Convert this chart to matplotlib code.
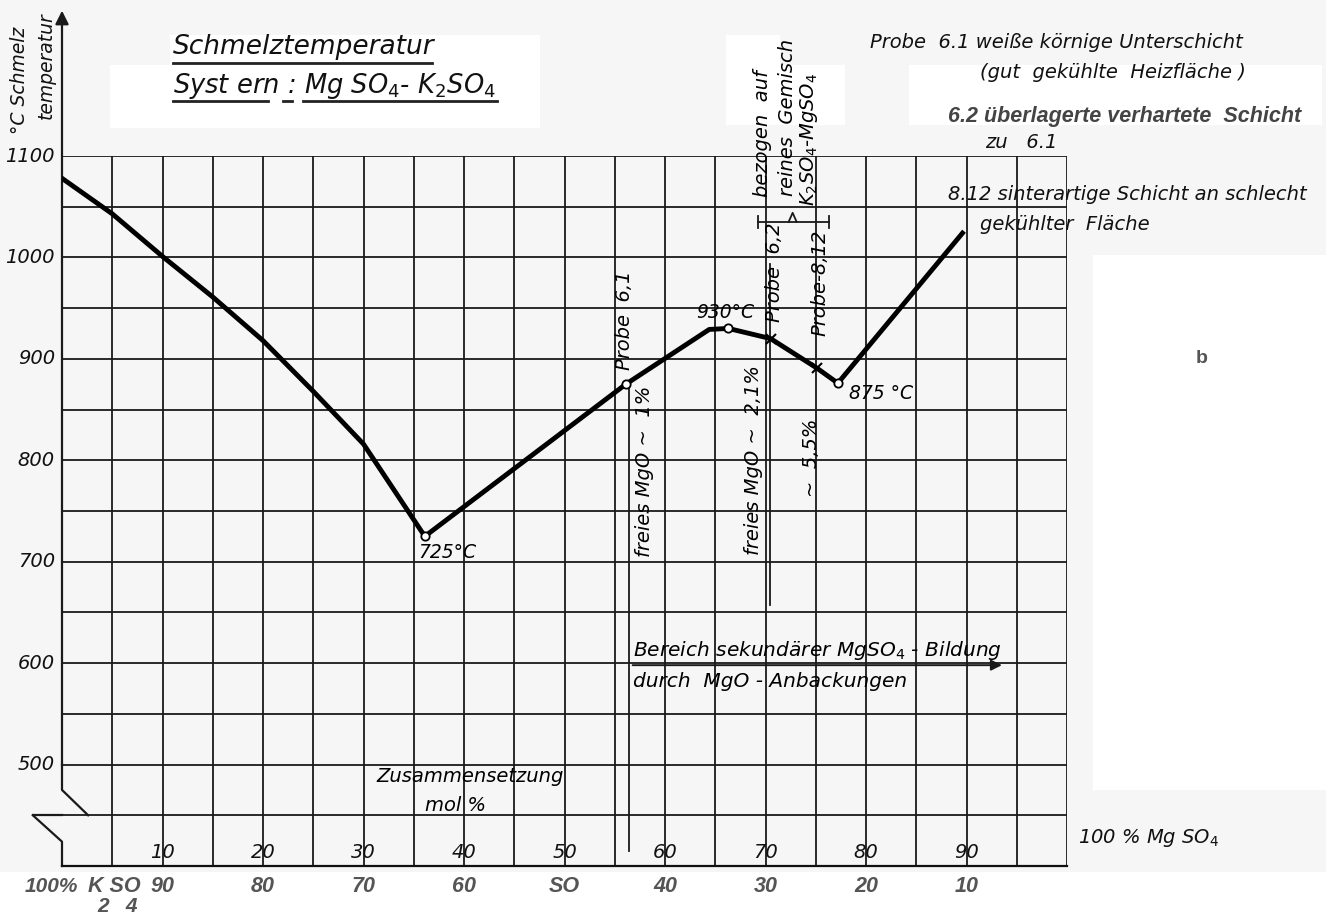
import matplotlib
matplotlib.use("Agg")
import matplotlib.pyplot as plt
from matplotlib.patches import Rectangle

# ---------------- data ----------------
comp = [0, 5, 10, 15, 20, 25, 30, 36.1, 56.1, 64.4, 66.3, 70.5, 75.1, 77.2, 89.6]
temp = [1078, 1043, 1001, 961, 918, 868, 816, 725, 875, 929, 930, 920, 891, 876, 1024]
circle_comp = [36.1, 56.1, 66.3, 77.2]
circle_temp = [725, 875, 930, 876]
cross_comp = [70.5, 75.1]
cross_temp = [920, 891]
y_ticks = [500, 600, 700, 800, 900, 1000, 1100]
mg_ticks = [10, 20, 30, 40, 50, 60, 70, 80, 90]
k_labels = ["90", "80", "70", "60", "SO", "40", "30", "20", "10"]

W, H = 1326, 916
fig = plt.figure(figsize=(W / 100, H / 100), dpi=100)
fig.patch.set_facecolor("#f6f6f6")

def P(x, y):
    return (x / W, 1 - y / H)

def ftxt(x, y, s, **kw):
    kw.setdefault("fontsize", 14)
    kw.setdefault("style", "italic")
    kw.setdefault("color", "#111111")
    kw.setdefault("va", "center")
    return fig.text(*P(x, y), s, **kw)

# white paper patches (behind everything)
for (x0, y0, x1, y1) in [(170, 35, 540, 128), (110, 65, 170, 128),
                         (726, 35, 780, 125), (780, 65, 845, 125),
                         (909, 65, 1322, 125), (1093, 255, 1326, 790),
                         (0, 872, 1326, 916)]:
    fig.patches.append(Rectangle(P(x0, y1), (x1 - x0) / W, (y1 - y0) / H,
                                 transform=fig.transFigure, facecolor="white",
                                 edgecolor="none", zorder=-5))

L, R, T, B = 62, 1067, 156, 866
ax = fig.add_axes([L / W, 1 - B / H, (R - L) / W, (B - T) / H])
ax.set_zorder(1)
ax.set_facecolor("none")
ax.set_xlim(0, 100)
ax.set_ylim(400, 1100)
for s in ["left", "right", "top"]:
    ax.spines[s].set_visible(False)
ax.spines["bottom"].set_linewidth(1.6)
ax.spines["bottom"].set_color("#111111")
ax.set_xticks([])
ax.set_yticks([])

gc = "#1a1a1a"
for xv in range(5, 101, 5):
    ax.axvline(xv, color=gc, lw=1.3, zorder=1)
for yv in range(450, 1101, 50):
    ax.axhline(yv, color=gc, lw=1.3, zorder=1)

# left axis with break symbol
ax.plot([0, 0], [500, 1100], color=gc, lw=1.6, clip_on=False)
ax.plot([0, 0, 2.6], [500, 475, 450], color=gc, lw=1.6, clip_on=False)
ax.plot([-2.9, 0], [450, 450], color=gc, lw=1.6, clip_on=False)
ax.plot([-2.9, 0, 0], [450, 424, 400], color=gc, lw=1.6, clip_on=False)
ax.annotate("", xy=(0, 1246), xytext=(0, 1098),
            arrowprops=dict(arrowstyle="-|>", lw=1.6, color=gc, mutation_scale=20),
            annotation_clip=False)

# curve
ax.plot(comp, temp, color="black", lw=3.5, solid_joinstyle="round", zorder=4)
ax.plot(circle_comp, circle_temp, "o", ms=6, mfc="white", mec="black", mew=1.3, zorder=5)
ax.plot(cross_comp, cross_temp, "x", ms=7, color="black", mew=1.5, zorder=5)

# annotation verticals
ax.plot([56.4, 56.4], [875, 415], color=gc, lw=1.3, clip_on=False)
ax.plot([70.4, 70.4], [994, 657], color=gc, lw=1.3, clip_on=False)
ax.annotate("", xy=(93.8, 598), xytext=(56.5, 598),
            arrowprops=dict(arrowstyle="-|>", lw=1.4, color=gc, mutation_scale=16))

# y tick labels
for yv in y_ticks:
    ax.text(-0.7, yv, str(yv), ha="right", va="center", fontsize=14,
            style="italic", color="#111111", clip_on=False)
# x tick labels inside bottom row
for v in mg_ticks:
    ax.text(v, 413, str(v), ha="center", va="center", fontsize=14,
            style="italic", color="#111111")
for v, s in zip(mg_ticks, k_labels):
    ax.text(v, 380, s, ha="center", va="center", fontsize=15.5,
            family="Liberation Sans", style="italic", weight="bold",
            color="#555555", clip_on=False)

# value labels
ax.text(38.3, 709, "725°C", ha="center", va="center", fontsize=13.5, style="italic")
ax.text(66.0, 946, "930°C", ha="center", va="center", fontsize=13.5, style="italic")
ax.text(81.5, 866, "875 °C", ha="center", va="center", fontsize=13.5, style="italic")

# rotated annotations
rot = dict(rotation=90, ha="center", va="center", fontsize=14, style="italic",
           clip_on=False)
ax.text(56.0, 938, "Probe  6,1", **rot)
ax.text(58.0, 789, "freies MgO ~  1%", **rot)
ax.text(68.8, 800, "freies MgO ~  2,1%", **rot)
ax.text(70.9, 985, "Probe  6,2", **rot)
ax.text(75.4, 975, "Probe-8,12", **rot)
ax.text(74.6, 802, "~  5,5%", **rot)
ax.text(69.7, 1122, "bezogen  auf", **rot)
ax.text(72.2, 1138, "reines  Gemisch", **rot)
ax.text(74.3, 1116, "K$_2$SO$_4$-MgSO$_4$", **rot)
# brace
ax.plot([69.3, 76.3], [1035, 1035], color=gc, lw=1.3, clip_on=False, zorder=3)
ax.plot([69.3, 69.3], [1029, 1041], color=gc, lw=1.3, clip_on=False, zorder=3)
ax.plot([76.3, 76.3], [1029, 1041], color=gc, lw=1.3, clip_on=False, zorder=3)
ax.plot([72.3, 72.7, 73.1], [1035, 1044, 1035], color=gc, lw=1.3, clip_on=False, zorder=3)

ax.text(56.8, 612, "Bereich sekundärer MgSO$_4$ - Bildung", ha="left", va="center",
        fontsize=14.5, style="italic")
ax.text(56.8, 582, "durch  MgO - Anbackungen", ha="left", va="center",
        fontsize=14.5, style="italic")
ax.text(40.6, 488, "Zusammensetzung", ha="center", va="center", fontsize=14, style="italic")
ax.text(39.2, 460, "mol %", ha="center", va="center", fontsize=14, style="italic")

# titles
ftxt(173, 47, "Schmelztemperatur", fontsize=19, ha="left")
ftxt(173, 86, "Syst ern : Mg SO$_4$- K$_2$SO$_4$", fontsize=18.5, ha="left")
for (x0, x1, y) in [(173, 432, 63), (173, 268, 101), (283, 292, 101), (303, 497, 101)]:
    fig.add_artist(plt.Line2D([x0 / W, x1 / W], [1 - y / H, 1 - y / H],
                              color="#222222", lw=2.0))

# axis title
ftxt(20, 80, "°C Schmelz", rotation=90, ha="center", fontsize=13.5)
ftxt(46, 66, "temperatur", rotation=90, ha="center", fontsize=13.5)

# right notes
ftxt(870, 43, "Probe  6.1 weiße körnige Unterschicht", ha="left")
ftxt(980, 73, "(gut  gekühlte  Heizfläche )", ha="left")
ftxt(948, 117, "6.2 überlagerte verhartete  Schicht", ha="left",
     family="Liberation Sans", weight="bold", color="#444444", fontsize=15.5)
ftxt(985, 143, "zu   6.1", ha="left")
ftxt(948, 194, "8.12 sinterartige Schicht an schlecht", ha="left", fontsize=14)
ftxt(980, 224, "gekühlter  Fläche", ha="left")
ftxt(1202, 358, "b", ha="center", family="Liberation Sans", weight="bold",
     style="normal", color="#555555", fontsize=14)
ftxt(1078, 838, "100 % Mg SO$_4$", ha="left", fontsize=14)

# bottom-left label
ftxt(25, 887, "100%", ha="left", family="Liberation Sans", weight="bold",
     color="#555555", fontsize=15)
ftxt(88, 887, "K SO", ha="left", family="Liberation Sans", weight="bold",
     color="#555555", fontsize=15.5)
ftxt(97, 907, "2   4", ha="left", family="Liberation Sans", weight="bold",
     color="#555555", fontsize=15)

fig.savefig("out.png", dpi=100, facecolor=fig.get_facecolor())
